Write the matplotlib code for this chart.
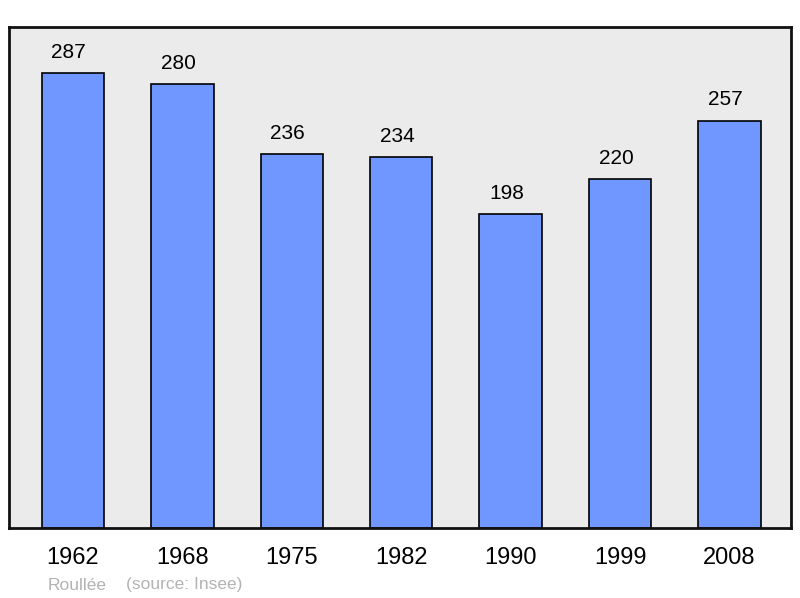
import matplotlib.pyplot as plt

# data
years = ['1962', '1968', '1975', '1982', '1990', '1999', '2008']
population = [287, 280, 236, 234, 198, 220, 257]
author = 'Roullée'
source = '(source: Insee)'

plt.rcParams['font.family'] = ['Liberation Sans', 'DejaVu Sans']

fig = plt.figure(figsize=(8, 5.98), dpi=100)
ax = fig.add_axes([9 / 800, 70 / 598, 782 / 800, 501 / 598])
ax.set_facecolor('#ebebeb')

positions = list(range(len(years)))
ax.bar(positions, population, width=0.57, color='#7096ff',
       edgecolor='black', linewidth=1.2, zorder=2)

# value labels above bars
for x, v in zip(positions, population):
    ax.annotate(str(v), (x, v), xytext=(-3, 8), textcoords='offset points',
                ha='center', va='bottom', fontsize=15, color='black')

ax.set_xlim(-0.585, 6.562)
ax.set_ylim(0, 316)
ax.set_yticks([])
ax.set_xticks(positions)
ax.set_xticklabels(years, fontsize=17)
ax.tick_params(axis='x', length=0, pad=14)

for s in ax.spines.values():
    s.set_linewidth(2)
    s.set_color('#111111')

fig.text(48 / 800, 1 - 585 / 598, author, fontsize=12.5, color='#b3b3b3',
         ha='left', va='center')
fig.text(126 / 800, 1 - 585 / 598, source, fontsize=12.5, color='#b3b3b3',
         ha='left', va='center')

fig.savefig('out.png', dpi=100)
